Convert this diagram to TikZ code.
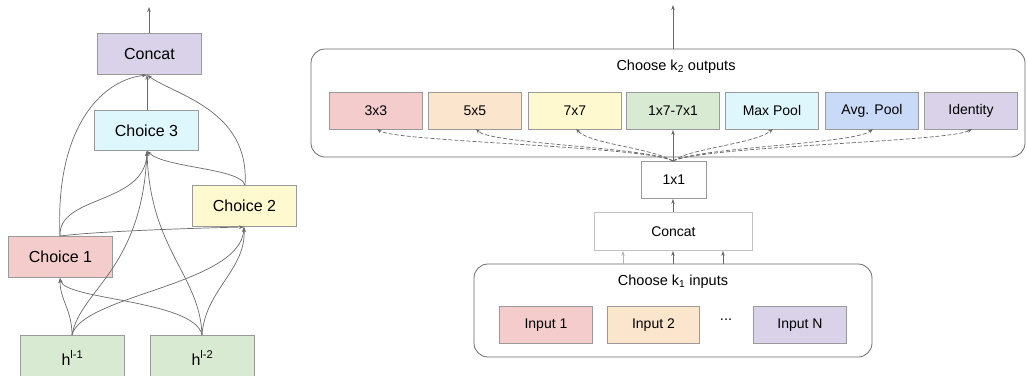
\documentclass[tikz,border=0pt]{standalone}
\usepackage{fontspec}
\setmainfont{Liberation Sans}
\usetikzlibrary{arrows.meta}
\definecolor{cpink}{HTML}{F4CCCC}
\definecolor{corange}{HTML}{FCE5CD}
\definecolor{cyellow}{HTML}{FFF9CF}
\definecolor{cgreen}{HTML}{D9EAD3}
\definecolor{ccyan}{HTML}{DDF7FD}
\definecolor{cblue}{HTML}{C9DAF8}
\definecolor{cpurple}{HTML}{D9D2E9}
\definecolor{bord}{HTML}{9A9A9A}
\definecolor{edge}{HTML}{6A6A6A}
\tikzset{
  bx/.style={draw=bord, line width=0.9pt, inner sep=0pt, anchor=north west, font=\fontsize{16}{18}\selectfont},
  opbx/.style={draw=bord, line width=0.9pt, inner sep=0pt, anchor=north west, font=\fontsize{14}{16}\selectfont},
  grp/.style={draw=edge, line width=0.8pt, rounded corners=14pt},
  arr/.style={draw=edge, line width=0.7pt, -{Stealth[length=5pt,width=3.5pt]}},
  darr/.style={draw=edge, line width=0.7pt, dashed, dash pattern=on 4pt off 2pt, -{Stealth[length=5pt,width=3.5pt]}},
  lbl/.style={font=\fontsize{14.5}{16}\selectfont, inner sep=0pt},
}
\begin{document}
\begin{tikzpicture}[x=1pt,y=-1pt]
\useasboundingbox (0,0) rectangle (1027,375);
% ---------- left cell ----------
\node[bx, fill=cpurple, minimum width=104pt, minimum height=41pt] (cat) at (97,33) {Concat};
\node[bx, fill=ccyan, minimum width=104pt, minimum height=40pt] (c3) at (94,110) {Choice 3};
\node[bx, fill=cyellow, minimum width=104pt, minimum height=41pt] (c2) at (192,185) {Choice 2};
\node[bx, fill=cpink, minimum width=104pt, minimum height=41pt] (c1) at (8,236) {Choice 1};
\node[bx, fill=cgreen, minimum width=104pt, minimum height=45pt] (h1) at (20,335) {h\textsuperscript{l-1}};
\node[bx, fill=cgreen, minimum width=104pt, minimum height=45pt] (h2) at (150,335) {h\textsuperscript{l-2}};
\coordinate (out1) at (149,7);
\coordinate (catb) at (147,75);
\coordinate (c3b) at (147,151);
\coordinate (c3t) at (147,110);
\coordinate (c2b) at (244,227);
\coordinate (c2t) at (245,185);
\coordinate (c1b) at (60,278);
\coordinate (c1t) at (60,236);
\coordinate (h1t) at (72,335);
\coordinate (h2t) at (202,335);
\draw[arr] (cat.north -| out1) -- (out1);
\draw[arr] (h1t) .. controls (72,310) and (60,300) .. (c1b);
\draw[arr] (h1t) .. controls (80,290) and (142,270) .. (c3b);
\draw[arr] (h1t) .. controls (82,295) and (240,285) .. (c2b);
\draw[arr] (h2t) .. controls (195,300) and (65,300) .. (c1b);
\draw[arr] (h2t) .. controls (200,275) and (150,250) .. (c3b);
\draw[arr] (h2t) .. controls (205,290) and (246,270) .. (c2b);
\draw[arr] (c1t) .. controls (100,231) and (200,228) .. (c2b);
\draw[arr] (c1t) .. controls (58,195) and (145,205) .. (c3b);
\draw[arr] (c1t) .. controls (55,130) and (100,80) .. (catb);
\draw[arr] (c2t) .. controls (240,168) and (165,168) .. (c3b);
\draw[arr] (c2t) .. controls (250,110) and (175,95) .. (catb);
\draw[arr] (c3t) -- (catb);
% ---------- right cell ----------
\draw[grp] (311,49) rectangle (1025,157);
\node[lbl] (otitle) at (676,67) {Choose k\textsubscript{2} outputs};
\node[opbx, fill=cpink, minimum width=93pt, minimum height=37pt] (o1) at (329,92) {3x3};
\node[opbx, fill=corange, minimum width=93pt, minimum height=37pt] (o2) at (428,92) {5x5};
\node[opbx, fill=cyellow, minimum width=93pt, minimum height=37pt] (o3) at (528,92) {7x7};
\node[opbx, fill=cgreen, minimum width=93pt, minimum height=37pt] (o4) at (626,92) {1x7-7x1};
\node[opbx, fill=ccyan, minimum width=93pt, minimum height=37pt] (o5) at (725,92) {Max Pool};
\node[opbx, fill=cblue, minimum width=93pt, minimum height=37pt] (o6) at (825,92) {Avg. Pool};
\node[opbx, fill=cpurple, minimum width=93pt, minimum height=37pt] (o7) at (924,92) {Identity};
\node[opbx, fill=white, minimum width=65pt, minimum height=37pt] (one) at (641,161) {1x1};
\node[opbx, fill=white, draw=bord!60, minimum width=158pt, minimum height=38pt] (cc) at (594,212) {Concat};
\draw[grp] (474,264) rectangle (872,357);
\node[lbl] (ititle) at (673,282) {Choose k\textsubscript{1} inputs};
\node[opbx, fill=cpink, minimum width=93pt, minimum height=37pt] (i1) at (499,306) {Input 1};
\node[opbx, fill=corange, minimum width=92pt, minimum height=37pt] (i2) at (607,306) {Input 2};
\node[lbl] (dots) at (726,320) {...};
\node[opbx, fill=cpurple, minimum width=93pt, minimum height=37pt] (iN) at (753,306) {Input N};
\coordinate (gtop) at (673,49);
\coordinate (out2) at (673,5);
\coordinate (fan) at (673,161);
\coordinate (gin) at (673,264);
\draw[arr] (gtop) -- (out2);
\draw[arr] (fan) -- (o4.south -| fan);
\draw[darr] (fan) .. controls (645,146) and (395,142) .. ([xshift=1pt,yshift=1pt]o1.south);
\draw[darr] (fan) .. controls (648,147) and (490,144) .. ([xshift=1pt,yshift=1pt]o2.south);
\draw[darr] (fan) .. controls (652,148) and (590,144) .. ([xshift=1pt,yshift=1pt]o3.south);
\draw[darr] (fan) .. controls (690,148) and (755,144) .. ([xshift=1pt,yshift=1pt]o5.south);
\draw[darr] (fan) .. controls (700,147) and (855,144) .. ([xshift=1pt,yshift=1pt]o6.south);
\draw[darr] (fan) .. controls (705,146) and (950,142) .. ([xshift=1pt,yshift=1pt]o7.south);
\draw[arr] (cc.north -| fan) -- (one.south -| fan);
\draw[arr, draw=edge!50] (gin -| 623,0) -- (cc.south -| 623,0);
\draw[arr] (gin) -- (cc.south -| gin);
\draw[arr] (gin -| 723,0) -- (cc.south -| 723,0);
\end{tikzpicture}
\end{document}
